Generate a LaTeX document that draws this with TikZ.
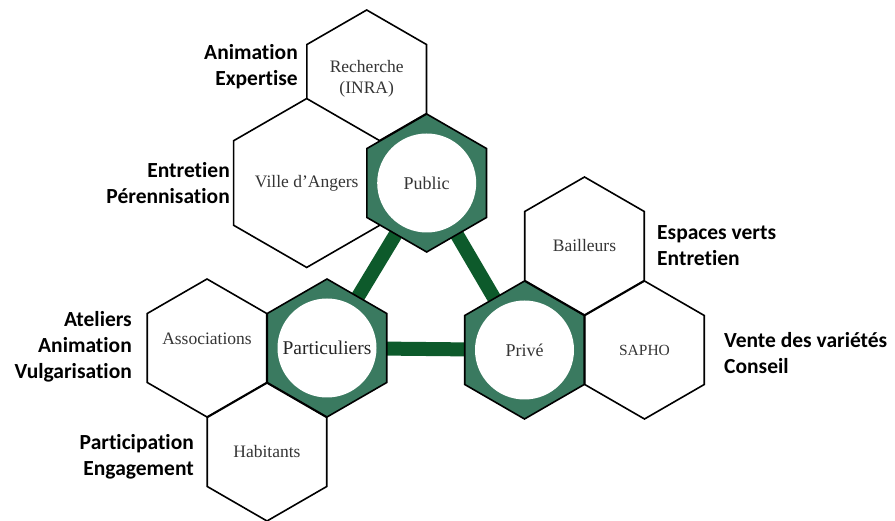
\documentclass[tikz,border=0pt]{standalone}
\usepackage{fontspec}
\setmainfont{Liberation Serif}
\newfontfamily\tagfont[Ligatures=NoCommon]{Carlito}
\usetikzlibrary{shapes.geometric,backgrounds}

\definecolor{hexgreen}{HTML}{3A7A60}
\definecolor{linkgreen}{HTML}{0D5A2B}
\definecolor{txtgray}{HTML}{353535}

\begin{document}
\begin{tikzpicture}
[
	               x = 1pt, y = -1pt,
	      hex/.style = { draw=black, line width=1.6pt, fill=white,
	                     regular polygon, regular polygon sides=6,
	                     shape border rotate=30, minimum size=138pt,
	                     inner sep=0pt, align=center, text=txtgray,
	                     font=\fontsize{17.5}{21}\selectfont },
	 greenhex/.style = { hex, fill=hexgreen },
	     core/.style = { circle, fill=white, minimum size=99pt, inner sep=0pt,
	                     text=txtgray, font=\fontsize{18}{21}\selectfont },
	     link/.style = { draw=linkgreen, line width=14pt },
	      tag/.style = { inner sep=0pt, text=black,
	                     font=\tagfont\bfseries\fontsize{21.5}{26}\selectfont },
	  lefttag/.style = { tag, anchor=east, align=right },
	 righttag/.style = { tag, anchor=west, align=left }
]
	\useasboundingbox (0,0) rectangle (895,521);

	% public side
	\node (recherche) at (366.7,79)  [hex]      {Recherche\\(INRA)};
	\node (ville)     at (306.7,183) [hex]      {Ville d'Angers};
	\node (publichex) at (426.7,183) [greenhex] {};
	\node (public)    at (426.7,183) [core]     {Public};

	% particuliers side
	\node (assoc)     at (207,348)   [hex, label={[yshift=9pt, text=txtgray,
	                                  font=\fontsize{17.5}{21}\selectfont]center:Associations}] {};
	\node (habitants) at (267,452)   [hex]      {Habitants};
	\node (parthex)   at (327,348)   [greenhex] {};
	\node (part)      at (327,348)   [core, text=black!85,
	                                  font=\fontsize{19.5}{21}\selectfont] {Particuliers};

	% prive side
	\node (bailleurs) at (584.5,246) [hex]      {Bailleurs};
	\node (sapho)     at (644.5,350) [hex, font=\fontsize{15.5}{21}\selectfont] {SAPHO};
	\node (privehex)  at (524.5,350) [greenhex] {};
	\node (prive)     at (524.5,350) [core]     {Privé};

	% links between the three groups
	\begin{scope}[on background layer]
		\draw [link] (public) -- (part);
		\draw [link] (public) -- (prive);
		\draw [link] (part)   -- (prive);
	\end{scope}

	% roles
	\node (tagrech)   at (298,66.5)  [lefttag]  {Animation\\Expertise};
	\node (tagville)  at (230,183)   [lefttag]  {Entretien\\Pérennisation};
	\node (tagassoc)  at (132,346.7) [lefttag]  {Ateliers\\Animation\\Vulgarisation};
	\node (taghab)    at (194,457)   [lefttag]  {Participation\\Engagement};
	\node (tagbail)   at (657,245.5) [righttag] {Espaces verts\\Entretien};
	\node (tagsapho)  at (724,353)   [righttag] {Vente des variétés\\Conseil};

\end{tikzpicture}
\end{document}
